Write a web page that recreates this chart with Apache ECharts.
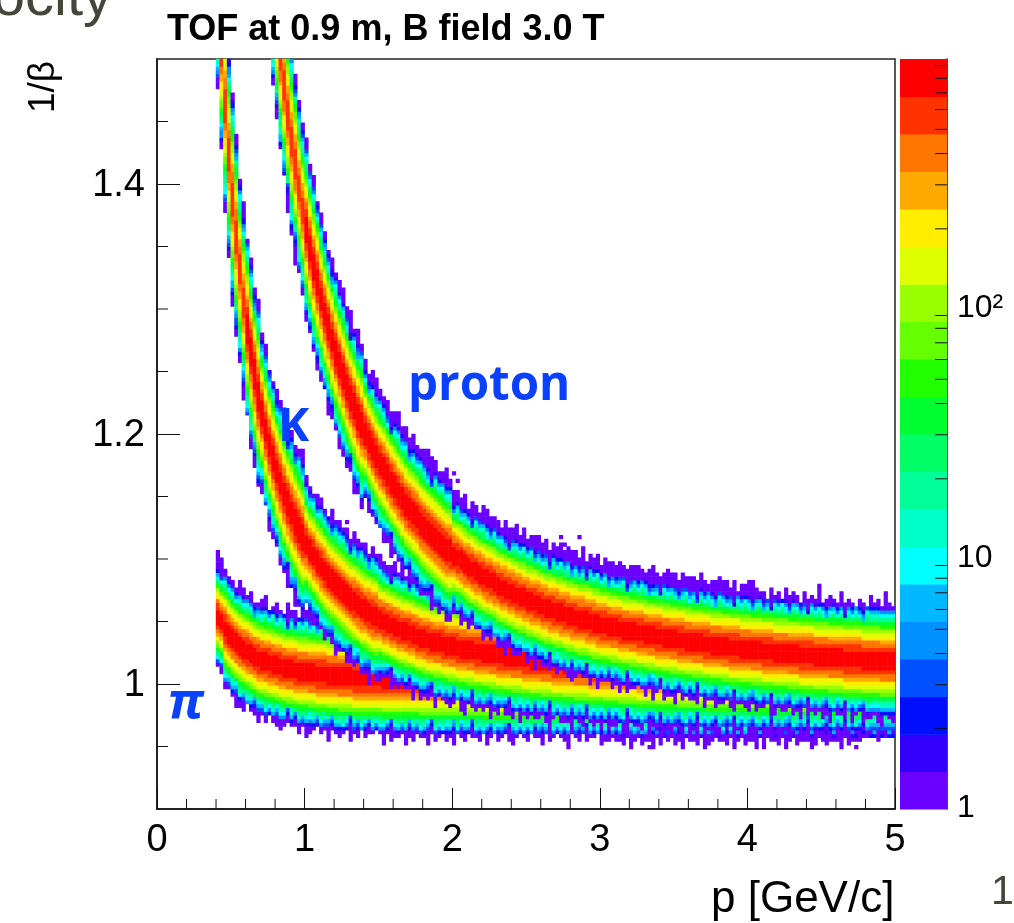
<!DOCTYPE html>
<html><head><meta charset="utf-8"><style>html,body{margin:0;padding:0;background:#fff}#c{width:1014px;height:923px}</style>
<script src="https://cdn.jsdelivr.net/npm/echarts@6/dist/echarts.min.js"></script></head><body><div id="c"></div>
<script>
// Axis tick labels
const xTickValues=[0,1,2,3,4,5];
const yTickValues=[1,1.2,1.4];
const zTickValues=[1,10,100];
const xMinorTicks=[.2,.4,.6,.8,1.2,1.4,1.6,1.8,2.2,2.4,2.6,2.8,3.2,3.4,3.6,3.8,4.2,4.4,4.6,4.8];
const yMinorTicks=[.95,1.05,1.1,1.15,1.25,1.3,1.35,1.45];
const zMinorTicks=[2,3,4,5,6,7,8,9,20,30,40,50,60,70,80,90,200,300,400,500,600,700,800,900];
// Colour scale: contour edges (counts) and colours, low to high
const levelEdges=[.955,1.35,1.9,2.69,3.8,5.37,7.58,10.7,15.1,21.4,30.2,42.7,60.3,85.2,120,170,240,339,479,677,956];
const palette=['#6a00ff','#3300ff','#0010ff','#0050ff','#0090ff','#00b8ff','#00ffff','#00ffc8','#00ff98','#00ff66','#00ff30','#22ff00','#66ff00','#99ff00','#ddff00','#ffee00','#ffaa00','#ff7700','#ff3300','#ff0000'];
// Counts across a band: [fraction of half-width, counts], read from the p = 5 edge of the proton band
const bandProfile=[[.17,850],[.26,560],[.34,400],[.40,280],[.47,200],[.53,140],[.58,100],[.63,70],[.67,50],[.71,36],[.75,25],[.79,18],[.83,12],[.87,9],[.90,6],[.93,4.5],[.95,3],[.98,2],[1,1]];
// Band centres per momentum bin: (1/beta - 1) x 1000. First bin of pi and K = 16, of proton = 29
const piCentre=[54,50,44,40,36,33,30,28,26,24,22,20,19,18,17,16,15,14,13,12,12,11,10,10,10,9,9,8,8,8,7,7,7,6,6,6,6,5,5,5,5,5,5,5,5,4,4,4,4,4,4,4,4,4,4,3,3,3,3,3,3,3,3,3,3,3,3,3,3,3,3,3,2,2,2,2,2,2,2,2,2,2,2,2,2,2,2,2,2,2,2,2,2,2,2,2,2,2,2,2,2,2,2,2,2,2,1,1,1,1,1,1,1,1,1,1,1,1,1,1,1,1,1,1,1,1,1,1,1,1,1,1,1,1,1,1,1,1,1,1,1,1,1,1,1,1,1,1,1,1,1,1,1,1,1,1,1,1,1,1,1,1,1,1,1,1,1,1,1,1,1,0,0,0,0,0,0,0,0,0,0,0,0,0];
const kCentre=[560,508,463,423,388,358,331,306,284,265,247,231,217,203,191,180,170,161,152,144,137,130,124,118,112,107,103,98,94,90,86,83,80,77,74,71,68,66,64,61,59,57,55,54,52,50,49,47,46,44,43,42,41,40,38,37,36,35,34,33,33,32,31,30,30,29,28,28,27,27,26,26,25,25,24,24,23,23,22,22,21,21,21,20,20,19,19,19,18,18,18,17,17,17,16,16,16,15,15,15,15,14,14,14,14,13,13,13,13,12,12,12,12,12,11,11,11,11,11,10,10,10,10,10,10,9,9,9,9,9,9,9,9,8,8,8,8,8,8,8,8,8,8,8,7,7,7,7,7,7,7,7,7,7,7,6,6,6,6,6,6,6,6,6,6,6,6,6,6,6,6,6,6,6,5,5,5,5,5,5,5,5,5,5];
const protonCentre=[618,586,556,528,502,478,455,434,415,396,379,363,348,334,321,308,296,285,275,265,255,246,237,229,222,214,207,201,194,188,182,177,172,167,162,157,153,148,144,140,136,133,129,126,123,120,117,114,111,108,106,103,101,99,96,94,92,90,88,86,84,83,81,79,77,76,74,73,71,70,69,67,66,65,64,62,61,60,59,58,57,56,55,54,53,52,52,51,50,49,48,47,47,46,45,45,44,43,43,42,42,41,41,40,39,39,38,38,37,37,36,36,35,35,34,34,33,33,33,32,32,31,31,31,30,30,29,29,29,28,28,28,27,27,27,26,26,26,25,25,25,25,24,24,24,23,23,23,23,22,22,22,22,21,21,21,21,20,20,20,20,20,19,19,19,19,19,18,18,18,18];
// Band half-width x 1000 and peak counts: [up to this p, value]
const piHalf=[[.45,38],[9,43]];
const kHalf=[[.55,80],[.7,70],[1,60],[1.5,48],[9,43]];
const protonHalf=[[.95,72],[1.1,66],[1.4,60],[2,52],[3,44],[9,43]];
const piPeak=[[9,850]];
const kPeak=[[.6,560],[.8,800],[9,850]];
const protonPeak=[[1,650],[1.3,800],[9,850]];
// Jagged outer edge: extra single-count cells beyond the band, one digit per momentum bin
const piUp='5421103212012301210312012013021023101201301';
const piDown='1120132201130201231011203210213012103120211013021103120113021021301201120310210231012011302101230120211032101120310211302010213011203210112031021130201120310211032012011302110';
const kUp='1120211312021301223120132102210312120311202132123110212031201123102131202012302112031202103120311201021302120131203110213012021302110213021201132021102310211032012110230210123011201310211032';
const kDown='1021201302112031021203110230120131021102130121031201130212030112102301211031201120312011023102113012012130211032011203110213012031102113201021302110320112031021301120302112013021031201';
const protonUp='1021213102131203212134231322143223134232422343312423324133244233142342423342413342433241334243324323343234323433243332432234332413344212031203121031215012103121021031204102130121025101';
const protonDown='1021102130120112031021103120211021301201102103120211031201021102130211021301120210231011203110213021101203102113020112031021102310120211032011021302110213011203102110230120113021';
// Relative tail height per momentum bin (digit 5 = as read), which breaks up the low-count fringe
const tailGain='5384627495163847295061748352964185730629417385206947153862094735182640957318462059374816250937481625093748162590374861250947316825094731862509473168250947318625094731682509473186';
// Isolated single counts outside the bands: [p, 1/beta]
const strayCells=[[2.01,1.17],[1.985,1.163],[2.04,1.163],[1.49,1.243],[1.22,1.203],[1.287,1.13],[1.287,1.125],[.815,1.233],[2.73,1.118],[2.76,1.112],[2.8,1.106],[2.87,1.116],[2.9,1.108],[2.785,.949],[1.59,.955],[3.34,.949],[4.11,.949],[4.735,.949],[2.52,1.115],[3.75,1.08]];

const pBin=.025,yBin=.003,nBins=200;
const step=(t,p)=>{for(const s of t)if(p<=s[0])return s[1];return t[t.length-1][1];};
const cells=new Map();
function paintBand(first,centres,half,peak,up,down){
  centres.forEach((cv,k)=>{
    const col=first+k,p=(col+.5)*pBin,c=1+cv/1000,h=step(half,p)/1000,pk=step(peak,p)/850;
    const g=(+(tailGain[col-16]||5))/5*.8+.2;
    for(let row=0;row<nBins;row++){
      const v=.9+(row+.5)*yBin,d=v-c,a=Math.abs(d),f=a/h;
      let n=0;
      if(f<1){for(const s of bandProfile)if(f<=s[0]){n=Math.max(1,s[1]*pk*(f>.75?g:1));break;}}
      else{const ex=+((d>0?up:down)[k]||0);if((a-h)/yBin<ex)n=1;}
      if(n)cells.set(col+'_'+row,n);
    }
  });
}
paintBand(16,piCentre,piHalf,piPeak,piUp,piDown);
paintBand(16,kCentre,kHalf,kPeak,kUp,kDown);
paintBand(29,protonCentre,protonHalf,protonPeak,protonUp,protonDown);
strayCells.forEach(s=>cells.set(Math.floor(s[0]/pBin)+'_'+Math.floor((s[1]-.9)/yBin),1));
const heatData=[...cells].map(([k,n])=>{const a=k.split('_');return [+a[0],+a[1],n];});
const bins=Array.from({length:nBins},(_,i)=>String(i));

const frame={color:'#111',width:1.5};
function tickSeries(values,xi,yi,vertical,len){
  return {type:'custom',xAxisIndex:xi,yAxisIndex:yi,silent:true,clip:false,z:6,
    data:values.map(v=>[v]),encode:vertical?{x:0}:{y:0},
    renderItem(params,api){
      const v=api.value(0);
      const r=params.coordSys;
      const pos=vertical?api.coord([v,NaN]):api.coord([NaN,v]);
      const sh=vertical?{x1:pos[0],y1:r.y+r.height,x2:pos[0],y2:r.y+r.height-len}
                       :(xi===2?{x1:r.x+r.width,y1:pos[1],x2:r.x+r.width-len,y2:pos[1]}:{x1:r.x,y1:pos[1],x2:r.x+len,y2:pos[1]});
      return {type:'line',shape:sh,style:{stroke:'#111',lineWidth:1}};
    }};
}
const font='"Liberation Sans"';
const chart=echarts.init(document.getElementById('c'),null,{renderer:'canvas'});
chart.setOption({
  animation:false,backgroundColor:'#fff',
  title:{text:'TOF at 0.9 m, B field 3.0 T',left:162,top:7,textStyle:{fontFamily:font,fontWeight:'bold',fontSize:36,color:'#000'}},
  grid:[
    {left:157,top:59,width:738,height:750,show:true,borderColor:'#222',borderWidth:1.5,backgroundColor:'#fff'},
    {left:900,top:59,width:47,height:750}
  ],
  xAxis:[
    {type:'category',gridIndex:0,data:bins,show:false},
    {type:'value',gridIndex:0,position:'bottom',min:0,max:5,interval:1,
      axisLine:{lineStyle:frame},splitLine:{show:false},
      axisTick:{inside:true,length:21,lineStyle:{color:'#111',width:1},customValues:xTickValues},
      axisLabel:{margin:13,fontFamily:font,fontSize:38,color:'#000',customValues:xTickValues,formatter:v=>String(v)}},
    {type:'value',gridIndex:1,min:0,max:1,show:false}
  ],
  yAxis:[
    {type:'category',gridIndex:0,data:bins,show:false},
    {type:'value',gridIndex:0,position:'left',min:.9,max:1.5,
      axisLine:{lineStyle:frame},splitLine:{show:false},
      axisTick:{inside:true,length:23,lineStyle:{color:'#111',width:1},customValues:yTickValues},
      axisLabel:{margin:12,fontFamily:font,fontSize:38,color:'#000',verticalAlign:'top',lineHeight:4,customValues:yTickValues,formatter:v=>String(+(+v).toFixed(1))}},
    {type:'log',gridIndex:1,position:'right',logBase:10,min:.955,max:956,
      axisLine:{show:true,onZero:false,lineStyle:frame},splitLine:{show:false},
      axisTick:{inside:true,length:23,lineStyle:{color:'#111',width:1},customValues:zTickValues},
      axisLabel:{margin:10,fontFamily:font,fontSize:32,color:'#000',verticalAlign:'top',lineHeight:8,customValues:zTickValues,formatter:v=>{v=Math.round(v);return v>=100?'10²':String(v);}}}
  ],
  visualMap:{type:'piecewise',show:false,seriesIndex:0,dimension:2,
    pieces:palette.map((c,i)=>({gte:levelEdges[i],lt:levelEdges[i+1],color:c}))},
  series:[
    {type:'heatmap',xAxisIndex:0,yAxisIndex:0,data:heatData,progressive:0,animation:false,emphasis:{disabled:true},z:2},
    {type:'custom',xAxisIndex:2,yAxisIndex:2,silent:true,z:2,
      data:palette.map((c,i)=>[levelEdges[i],levelEdges[i+1],i]),encode:{y:[0,1]},
      renderItem(params,api){
        const a=api.coord([0,api.value(0)]),b=api.coord([1,api.value(1)]);
        return {type:'rect',shape:{x:a[0],y:b[1],width:b[0]-a[0],height:a[1]-b[1]+.5},style:{fill:palette[api.value(2)]}};
      }},
    tickSeries(xMinorTicks,1,1,true,10),
    tickSeries(yMinorTicks,1,1,false,11),
    tickSeries(zMinorTicks,2,2,false,12)
  ],
  graphic:[
    {type:'text',x:112,y:-30,style:{text:'ocity',align:'right',font:'58px "Liberation Sans"',fill:'#45453a'},z:20},
    {type:'text',x:991,y:872,style:{text:'1',font:'41px "Liberation Sans"',fill:'#45453a'},z:20},
    {type:'text',x:711,y:878,style:{text:'p [GeV/c]',font:'44px "Liberation Sans"',fill:'#000'},z:20},
    {type:'text',x:25,y:113,rotation:Math.PI/2,style:{text:'1/β',font:'37px "Liberation Sans"',fill:'#000'},z:20},
    {type:'text',x:408,y:362,style:{text:'proton',font:'bold 47.5px "Open Sans"',fill:'#0a40ff'},z:20},
    {type:'text',x:278,y:404,style:{text:'K',font:'bold 47px "Open Sans"',fill:'#0a40ff'},z:20},
    {type:'text',x:168,y:680,style:{text:'π',font:'italic bold 50px "Noto Sans"',fill:'#0a40ff'},z:20}
  ]
});
</script></body></html>
